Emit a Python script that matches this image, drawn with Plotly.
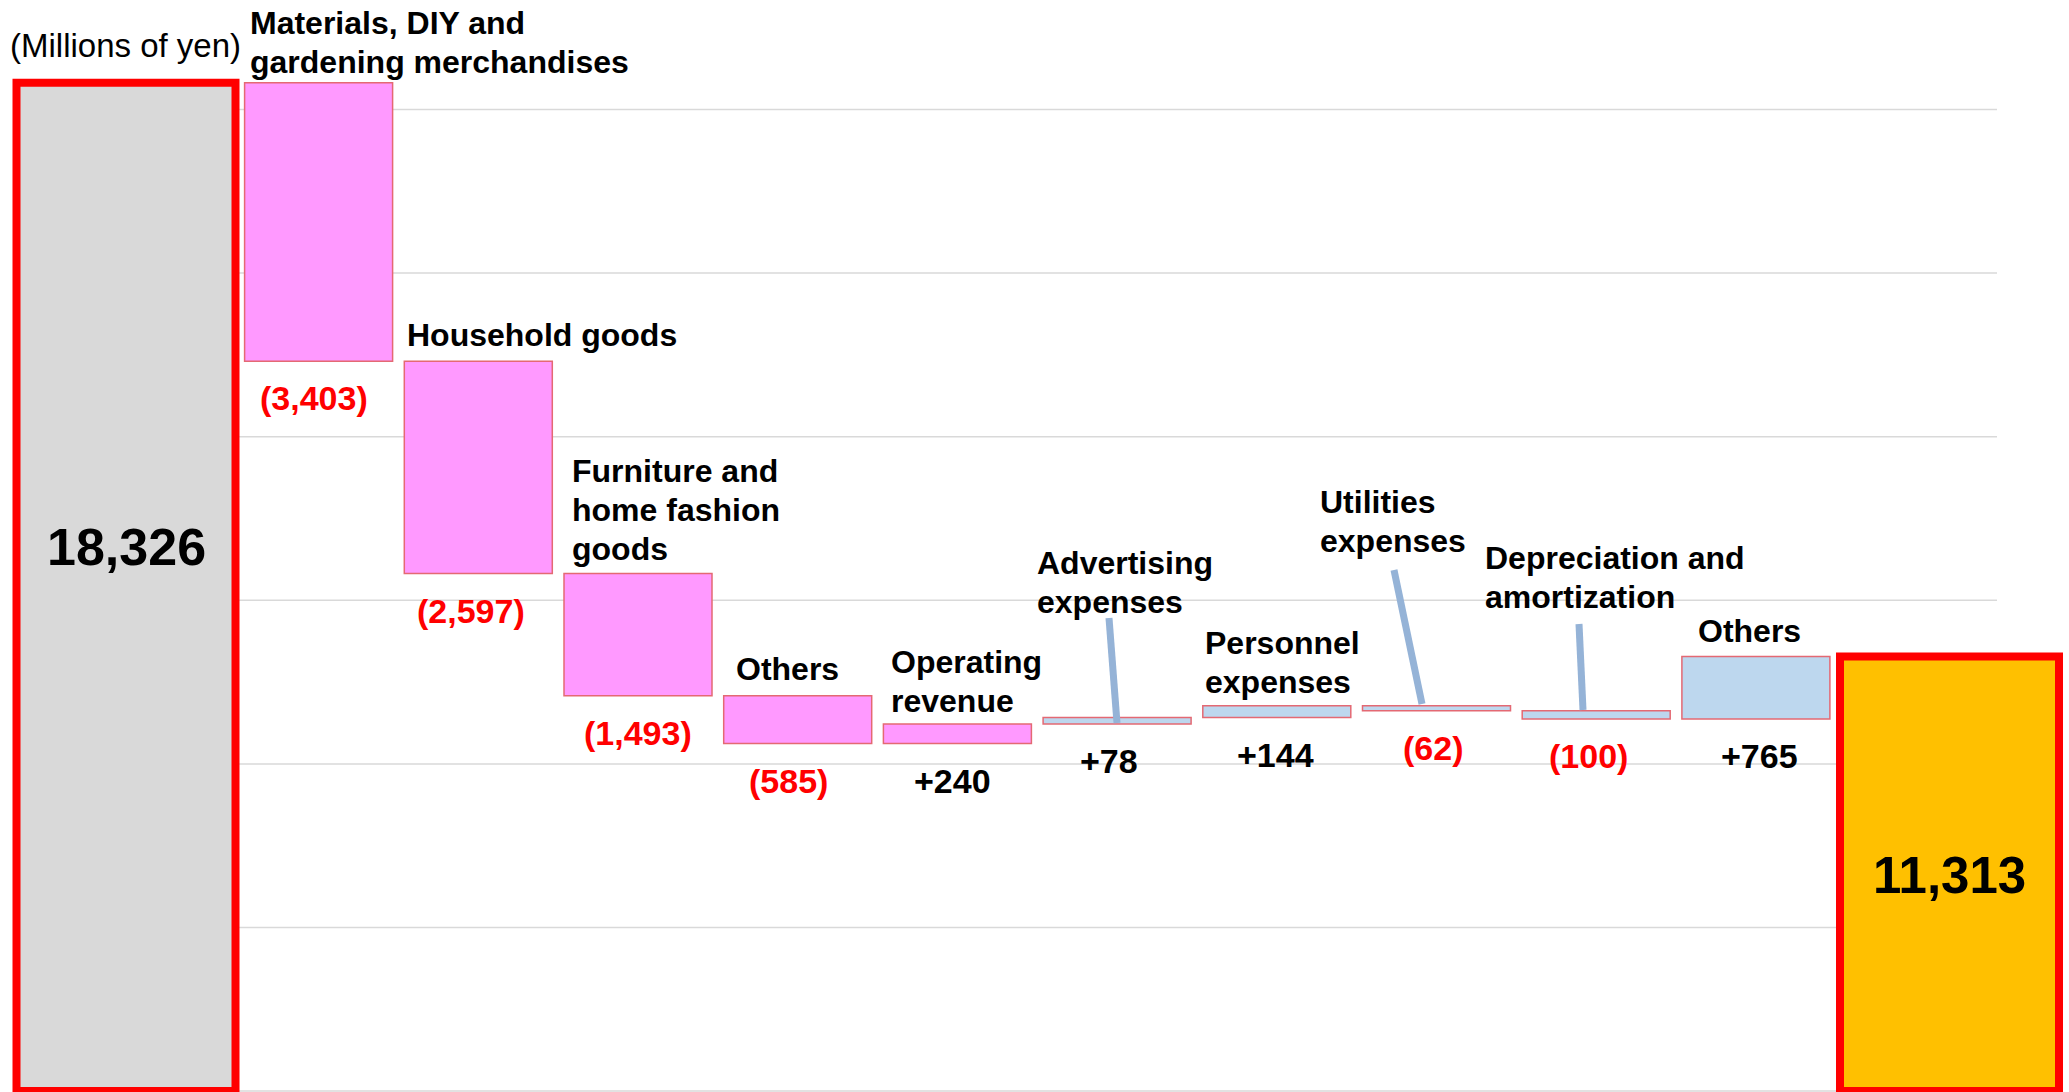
import plotly.graph_objects as go

# ---- data -------------------------------------------------------------
step_labels = [
    "Materials, DIY and<br>gardening merchandises",
    "Household goods",
    "Furniture and<br>home fashion<br>goods",
    "Others",
    "Operating<br>revenue",
    "Advertising<br>expenses",
    "Personnel<br>expenses",
    "Utilities<br>expenses",
    "Depreciation and<br>amortization",
    "Others",
]
step_changes = [-3403, -2597, -1493, -585, 240, 78, 144, -62, -100, 765]
step_groups = ["sales"] * 5 + ["expenses"] * 5
start_value = 18326
end_value = 11313
grid_values = [6000, 8000, 10000, 12000, 14000, 16000, 18000]
unit_note = "(Millions of yen)"

# ---- geometry / styling -------------------------------------------------
W, H = 2069, 1092
Y_LO, Y_HI = 5988.6, 19338.6          # value range mapped onto the full height
AXIS_BASE = grid_values[0]            # totals are drawn up from the lowest gridline
FONT = "Liberation Sans, Arial, sans-serif"

STEP_X0, STEP_DX, STEP_W = 318.6, 159.7, 148
START_X, END_X, TOTAL_W = 126, 1949.5, 219
LINE_GAP = 39                          # px between lines of a category label

PINK, BLUE = "#FF99FF", "#BDD7EE"
OUTLINE = "rgb(228,105,115)"
LEADER = "#95B3D7"
fill_for = {"sales": PINK, "expenses": BLUE}

# label placement: (left offset from bar edge in px, lift of last line above bar top in px)
label_place = [(3, 21), (1, 26), (6, 25), (10, 27), (6, 23),
               (-8, 116), (0, 24), (-45, 165), (-39, 114), (14, 25)]
# horizontal nudge of each value label from its bar centre (px)
value_nudge = [-5, -7, 0, -9, -5, -8, -1, -4, -8, 4]
# leader lines for raised labels: step index -> (x top, y top px, x bottom, y bottom px)
leaders = {5: (1109, 618, 1117, 723),
           7: (1394, 570, 1422, 704),
           8: (1579, 624, 1583, 710)}


def px_to_val(py):
    return Y_HI - py * (Y_HI - Y_LO) / H


# ---- running totals -----------------------------------------------------
bases, heights, tops, bottoms = [], [], [], []
level = start_value
for c in step_changes:
    new = level + c
    lo, hi = min(level, new), max(level, new)
    bases.append(lo)
    heights.append(hi - lo)
    tops.append(hi)
    bottoms.append(lo)
    level = new

centers = [STEP_X0 + i * STEP_DX for i in range(len(step_changes))]

fig = go.Figure()

# start total
fig.add_trace(go.Bar(
    x=[START_X], y=[start_value - AXIS_BASE], base=[AXIS_BASE], width=[TOTAL_W],
    marker=dict(color="#D9D9D9", line=dict(color="#FF0000", width=8)),
    hoverinfo="skip", showlegend=False))

# step bars
fig.add_trace(go.Bar(
    x=centers, y=heights, base=bases, width=[STEP_W] * len(centers),
    marker=dict(color=[fill_for[g] for g in step_groups],
                line=dict(color=OUTLINE, width=1.5)),
    hoverinfo="skip", showlegend=False))

# end total
fig.add_trace(go.Bar(
    x=[END_X], y=[end_value - AXIS_BASE], base=[AXIS_BASE], width=[TOTAL_W],
    marker=dict(color="#FFC000", line=dict(color="#FF0000", width=8)),
    hoverinfo="skip", showlegend=False))

shapes = []
for gv in grid_values:
    shapes.append(dict(type="line", xref="x", yref="y", x0=13, x1=1997, y0=gv, y1=gv,
                       line=dict(color="#D9D9D9", width=1.5), layer="below"))
for i, (xt, yt, xb, yb) in leaders.items():
    shapes.append(dict(type="line", xref="x", yref="y", x0=xt, y0=px_to_val(yt),
                       x1=xb, y1=px_to_val(yb), line=dict(color=LEADER, width=7)))

annotations = []
for i, lab in enumerate(step_labels):
    dx, lift = label_place[i]
    left = centers[i] - STEP_W / 2
    lines = lab.split("<br>")
    n = len(lines)
    for k, line in enumerate(lines):
        annotations.append(dict(
            x=left + dx, y=tops[i], xref="x", yref="y", xanchor="left", yanchor="middle",
            yshift=lift + (n - 1 - k) * LINE_GAP, text=line, showarrow=False, align="left",
            font=dict(family=FONT, size=32, color="black", weight=700)))
    c = step_changes[i]
    txt = f"({abs(c):,})" if c < 0 else f"+{c:,}"
    annotations.append(dict(
        x=centers[i] + value_nudge[i], y=bottoms[i], xref="x", yref="y",
        xanchor="center", yanchor="middle",
        yshift=-37, text=txt, showarrow=False,
        font=dict(family=FONT, size=34, color="#FF0000" if c < 0 else "black", weight=700)))

annotations.append(dict(x=START_X, y=px_to_val(547), xref="x", yref="y", text=f"{start_value:,}",
                        showarrow=False, font=dict(family=FONT, size=52, color="black", weight=700)))
annotations.append(dict(x=END_X, y=px_to_val(875), xref="x", yref="y", text=f"{end_value:,}",
                        showarrow=False, font=dict(family=FONT, size=51, color="black", weight=700)))
annotations.append(dict(x=8, y=px_to_val(45), xref="x", yref="y", xanchor="left", yanchor="middle",
                        text=unit_note, showarrow=False,
                        font=dict(family=FONT, size=33, color="black")))

fig.update_layout(
    width=W, height=H, margin=dict(l=0, r=0, t=0, b=0),
    paper_bgcolor="white", plot_bgcolor="white",
    barmode="overlay",
    xaxis=dict(range=[0, W], visible=False, fixedrange=True),
    yaxis=dict(range=[Y_LO, Y_HI], visible=False, fixedrange=True),
    shapes=shapes, annotations=annotations,
)

fig.write_html("out.html", config={"displayModeBar": False})
